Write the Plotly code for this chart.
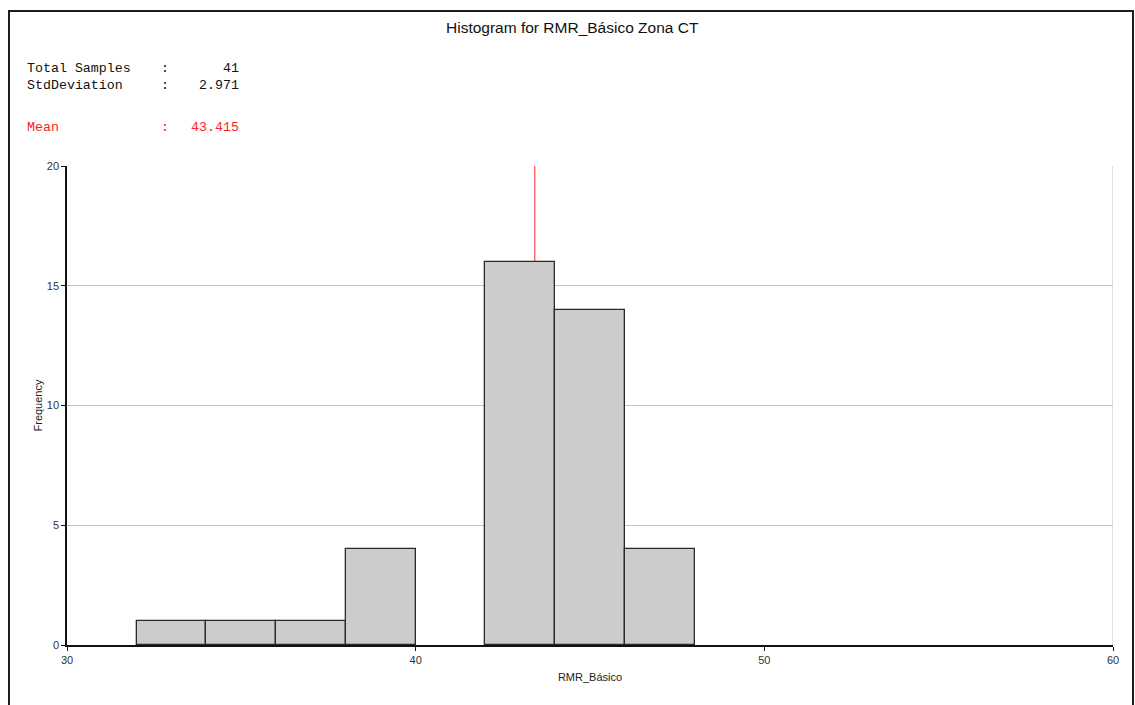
import plotly.graph_objects as go

# Histogram bins (RMR_Básico, bin width 2) and their counts
bin_starts = [32, 34, 36, 38, 40, 42, 44, 46]
counts = [1, 1, 1, 4, 0, 16, 14, 4]
bin_width = 2

total_samples = "41"
std_dev = "2.971"
mean_value = 43.415

x_ticks = [30, 40, 50, 60]
y_ticks = [0, 5, 10, 15, 20]

centers = [b + bin_width / 2 for b in bin_starts]
# empty bins get no outline
outline_widths = [1.3 if c > 0 else 0 for c in counts]

fig = go.Figure()
fig.add_trace(go.Bar(
    x=centers, y=counts, width=bin_width,
    marker=dict(color="#cccccc", line=dict(color="#2a2a2a", width=outline_widths)),
    hoverinfo="x+y", showlegend=False,
))

W, H = 1135, 705
L, R, T, B = 67, 22, 166, 60
pw, ph = W - L - R, H - T - B

def px_x(px):
    return (px - L) / pw

def px_y(py):
    return (H - B - py) / ph

shapes = [
    # mean marker
    dict(type="line", xref="x", yref="y", x0=mean_value, x1=mean_value,
         y0=0, y1=20, line=dict(color="#ff5c5c", width=1.3), layer="below"),
    # right edge of the plot frame
    dict(type="line", xref="x", yref="y", x0=60, x1=60, y0=0, y1=20,
         line=dict(color="#c0c0c0", width=1), layer="below"),
    # outer window frame
    dict(type="rect", xref="paper", yref="paper",
         x0=px_x(9), x1=px_x(1133), y0=px_y(730), y1=px_y(11),
         line=dict(color="#1e1e1e", width=2), fillcolor="rgba(0,0,0,0)"),
]

mono = "Liberation Mono, Courier New, monospace"
ann = []

def stat_row(label, value, py, color):
    for text, px, anchor in ((label, 25, "left"), (":", 165, "center"), (value, 241, "right")):
        ann.append(dict(text=text, x=px_x(px), y=px_y(py), xref="paper", yref="paper",
                        xanchor=anchor, yanchor="middle", showarrow=False,
                        font=dict(family=mono, size=13.3, color=color)))

stat_row("Total Samples", total_samples, 68, "#111111")
stat_row("StdDeviation", std_dev, 85, "#111111")
stat_row("Mean", f"{mean_value:.3f}", 127, "#ff2020")

ann.append(dict(text="Histogram for RMR_Básico Zona CT", x=px_x(572), y=px_y(27),
                xref="paper", yref="paper", xanchor="center", yanchor="middle",
                showarrow=False,
                font=dict(family="Liberation Sans Narrow, Liberation Sans, Arial", size=15.5,
                          color="#111111")))

fig.update_layout(
    width=W, height=H,
    margin=dict(l=L, r=R, t=T, b=B, pad=0),
    paper_bgcolor="white", plot_bgcolor="white",
    bargap=0,
    shapes=shapes,
    annotations=ann,
    xaxis=dict(
        range=[30, 60], tickvals=x_ticks, ticktext=[str(v) for v in x_ticks],
        showgrid=False, zeroline=False,
        showline=True, linecolor="#111111", linewidth=1.5,
        ticks="outside", ticklen=4, tickcolor="#111111",
        tickfont=dict(family="Liberation Sans, Arial", size=11, color="#333333"),
        title=dict(text="RMR_Básico", standoff=8,
                   font=dict(family="Liberation Sans, Arial", size=11, color="#222222")),
        fixedrange=True,
    ),
    yaxis=dict(
        range=[0, 20], tickvals=y_ticks,
        showgrid=True, gridcolor="#c4c4c4", gridwidth=1, zeroline=False,
        showline=True, linecolor="#111111", linewidth=1.5,
        ticks="outside", ticklen=4, tickcolor="#111111",
        tickfont=dict(family="Liberation Sans, Arial", size=11, color="#333333"),
        title=dict(text="Frequency", standoff=2,
                   font=dict(family="Liberation Sans, Arial", size=11, color="#222222")),
        fixedrange=True,
    ),
)

fig.write_html("out.html")
